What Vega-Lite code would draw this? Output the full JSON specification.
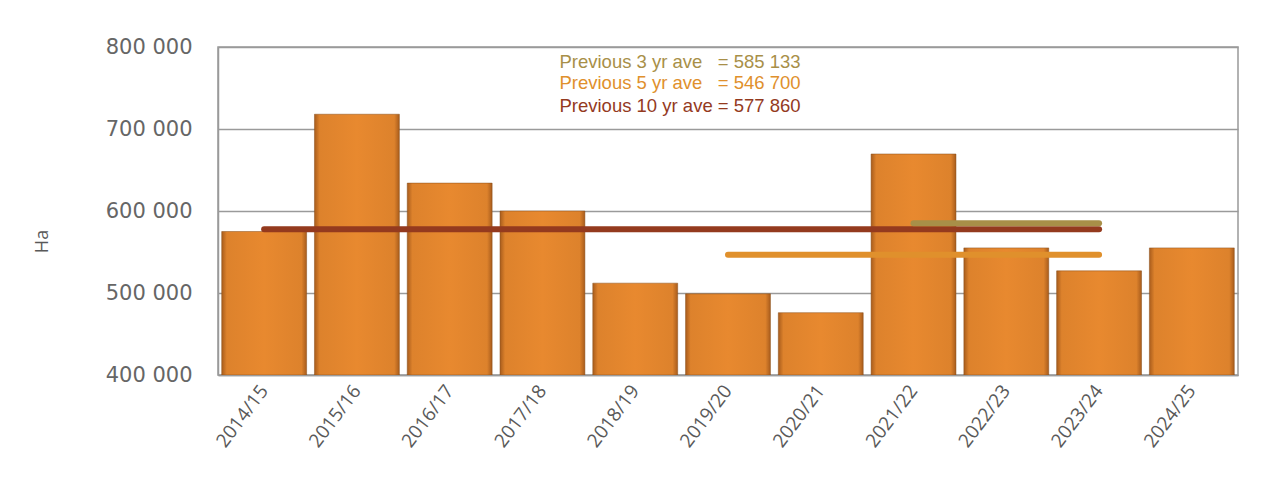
{
  "$schema": "https://vega.github.io/schema/vega-lite/v6.json",
  "width": 1020,
  "height": 328,
  "autosize": {"type": "none"},
  "padding": {"left": 218, "top": 47, "right": 38, "bottom": 107},
  "background": "#ffffff",
  "config": {
    "view": {"stroke": "#999999", "strokeWidth": 1.5},
    "axis": {"gridColor": "#9a9a9a", "gridWidth": 1.5, "domainColor": "#9a9a9a", "domainWidth": 1.5}
  },
  "datasets": {
    "bars": [
      {"season": "2014/15", "ha": 575000},
      {"season": "2015/16", "ha": 718000},
      {"season": "2016/17", "ha": 634000},
      {"season": "2017/18", "ha": 600000},
      {"season": "2018/19", "ha": 512000},
      {"season": "2019/20", "ha": 499000},
      {"season": "2020/21", "ha": 476000},
      {"season": "2021/22", "ha": 669500},
      {"season": "2022/23", "ha": 555000},
      {"season": "2023/24", "ha": 527000},
      {"season": "2024/25", "ha": 555000}
    ],
    "avgs": [
      {"label": "3yr", "start": "2021/22", "end": "2023/24", "value": 585133},
      {"label": "5yr", "start": "2019/20", "end": "2023/24", "value": 546700},
      {"label": "10yr", "start": "2014/15", "end": "2023/24", "value": 577860}
    ],
    "notes": [
      {"label": "3yr", "anchor": "2017/18", "pos": 782000, "text": "Previous 3 yr ave\u00a0\u00a0\u00a0= 585 133"},
      {"label": "5yr", "anchor": "2017/18", "pos": 755500, "text": "Previous 5 yr ave\u00a0\u00a0\u00a0= 546 700"},
      {"label": "10yr", "anchor": "2017/18", "pos": 728000, "text": "Previous 10 yr ave = 577 860"}
    ]
  },
  "layer": [
    {
      "data": {"name": "bars"},
      "mark": {
        "type": "bar",
        "clip": true,
        "stroke": "#8a4e18",
        "strokeWidth": 1,
        "strokeOpacity": 0.5,
        "color": {
          "gradient": "linear", "x1": 0, "x2": 1, "y1": 0, "y2": 0,
          "stops": [
            {"offset": 0, "color": "#a85c1c"},
            {"offset": 0.06, "color": "#dd822c"},
            {"offset": 0.5, "color": "#e8892f"},
            {"offset": 0.94, "color": "#dd822c"},
            {"offset": 1, "color": "#a85c1c"}
          ]
        }
      },
      "encoding": {
        "x": {
          "field": "season", "type": "nominal", "sort": null,
          "scale": {"paddingInner": 0.085, "paddingOuter": 0.04},
          "axis": {
            "title": null, "labelAngle": -53, "labelFont": "Open Sans", "labelFontSize": 19,
            "labelColor": "#595959", "ticks": false, "labelPadding": 12, "domain": true
          }
        },
        "y": {
          "field": "ha", "type": "quantitative",
          "scale": {"domain": [400000, 800000], "zero": false, "nice": false},
          "axis": {
            "title": "Ha", "titleFont": "Open Sans", "titleFontSize": 18, "titleFontWeight": "normal",
            "titleColor": "#595959", "titleY": 194, "titlePadding": 54,
            "values": [400000, 500000, 600000, 700000, 800000],
            "labelExpr": "replace(format(datum.value, ','), ',', ' ')",
            "labelFont": "DejaVu Sans", "labelFontSize": 21, "labelColor": "#666666",
            "ticks": false, "labelPadding": 26, "grid": true
          }
        },
        "y2": {"datum": 400000}
      }
    },
    {
      "data": {"name": "avgs"},
      "mark": {"type": "rule", "strokeWidth": 6, "strokeCap": "round"},
      "encoding": {
        "x": {"field": "start", "type": "nominal", "sort": null},
        "x2": {"field": "end"},
        "y": {"field": "value", "type": "quantitative"},
        "color": {
          "field": "label", "type": "nominal", "legend": null,
          "scale": {"domain": ["3yr", "5yr", "10yr"], "range": ["#a88f48", "#e0902c", "#943a1e"]}
        },
        "order": {"field": "value"}
      }
    },
    {
      "data": {"name": "notes"},
      "mark": {"type": "text", "align": "left", "baseline": "middle", "dx": 17, "font": "Liberation Sans", "fontSize": 18.5},
      "encoding": {
        "x": {"field": "anchor", "type": "nominal", "sort": null},
        "y": {"field": "pos", "type": "quantitative"},
        "text": {"field": "text"},
        "color": {
          "field": "label", "type": "nominal", "legend": null,
          "scale": {"domain": ["3yr", "5yr", "10yr"], "range": ["#a88f48", "#e0902c", "#943a1e"]}
        }
      }
    }
  ]
}
